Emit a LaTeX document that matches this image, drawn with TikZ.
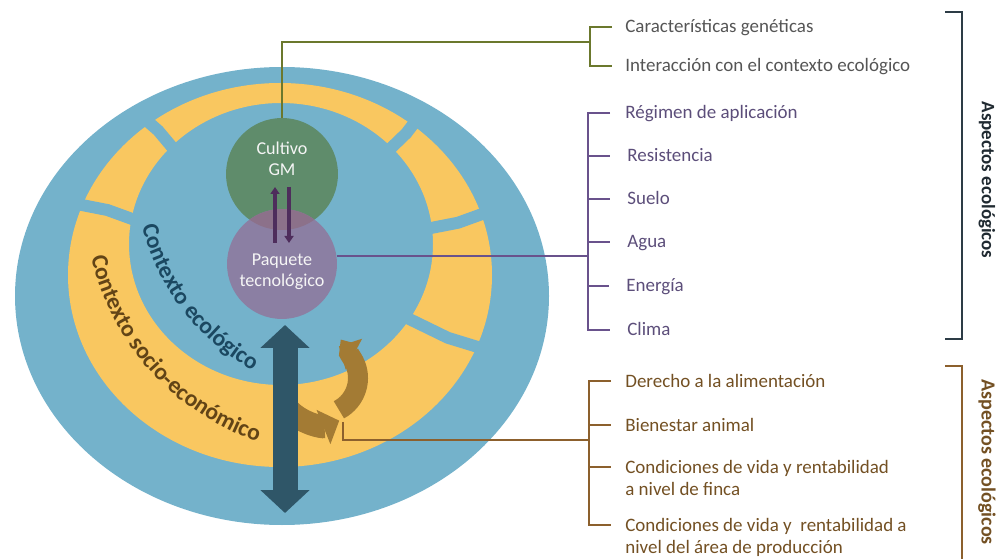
\documentclass[tikz,border=0pt]{standalone}
\usepackage{fontspec}
\setmainfont{Carlito}
\usetikzlibrary{arrows.meta,calc,decorations.text}

\begin{document}
\begin{tikzpicture}[x=0.02cm,y=0.02cm]
  % Colour definitions
  \definecolor{bgblue}{RGB}{116,178,203}
  \definecolor{ringyel}{RGB}{249,199,96}
  \definecolor{gmgreen}{RGB}{95,140,107}
  \definecolor{pkpurple}{RGB}{139,127,163}
  \definecolor{pklens}{RGB}{140,113,138}
  \definecolor{bigarr}{RGB}{47,86,104}
  \definecolor{recarr}{RGB}{163,123,52}
  \definecolor{tiearr}{RGB}{78,45,92}
  \definecolor{ecotext}{RGB}{27,72,97}
  \definecolor{sociotext}{RGB}{98,68,22}
  \definecolor{genline}{RGB}{107,120,45}
  \definecolor{gentext}{RGB}{85,85,85}
  \definecolor{pkline}{RGB}{105,82,140}
  \definecolor{pktext}{RGB}{92,78,122}
  \definecolor{socline}{RGB}{140,96,45}
  \definecolor{soctext}{RGB}{115,80,35}
  \definecolor{slate}{RGB}{45,60,70}

  \tikzset{
    itemtxt/.style={anchor=base west, inner sep=0pt, font=\fontsize{10.8}{12.6}\selectfont},
    circtxt/.style={align=center, text=white!92!gray, font=\fontsize{10.3}{12}\selectfont},
    asptxt/.style={rotate=-90, inner sep=0pt, font=\fontsize{10.8}{13}\selectfont\bfseries},
    conn/.style={line width=1.2pt},
    ringgap/.style={fill=bgblue}
  }

  \useasboundingbox (0,0) rectangle (997,558);

  % Background and segmented ring
  \fill[bgblue] (282,262) ellipse[x radius=267, y radius=229];
  \fill[ringyel, even odd rule] (280,283) ellipse[x radius=212, y radius=192]
                                (281,314) ellipse[x radius=152, y radius=141];
  \begin{scope}
    \clip (280,283) ellipse[x radius=216, y radius=196];
    \foreach \a in {134,164,48,15,-22}
      \fill[ringgap, shift={(281,293)}, rotate=\a]
        (110,-6) -- (182,-11) -- (240,-6) -- (240,6) -- (182,1) -- (110,6) -- cycle;
  \end{scope}

  % Curved labels
  \path[decorate, decoration={text along path, text align=center, text color=ecotext,
        text={|\fontsize{13.4}{16}\selectfont\bfseries|Contexto ecológico}}]
    ([shift={(192:230)}]365,388) arc[start angle=192, end angle=243, radius=230];
  \path[decorate, decoration={text along path, text align=center, text color=sociotext,
        text={|\fontsize{13.4}{16}\selectfont\bfseries|Contexto socio-económico}}]
    ([shift={(190:254)}]339,357) arc[start angle=190, end angle=254, radius=254];

  % Crop and technology package
  \node[circle, fill=gmgreen, minimum size=2.24cm, inner sep=0pt] (gm) at (282,384) {};
  \node[circle, fill=pkpurple, minimum size=2.2cm, inner sep=0pt] (pk) at (282,294) {};
  \begin{scope}
    \clip (282,384) circle[radius=56];
    \fill[pklens] (282,294) circle[radius=55];
  \end{scope}
  \node[circtxt] (gmtxt) at (282,399) {Cultivo\\GM};
  \node[circtxt] (pktxt) at (282,286) {Paquete\\tecnológico};

  \draw[tiearr, line width=0.08cm, -{Triangle[width=0.18cm,length=0.14cm]}]
    ([shift={(-7,21)}]pk.center) -- ([shift={(-7,-13)}]gm.center);
  \draw[tiearr, line width=0.08cm, -{Triangle[width=0.18cm,length=0.14cm]}]
    ([shift={(7,-13)}]gm.center) -- ([shift={(7,21)}]pk.center);

  % Cycle arrows
  \draw[recarr, line width=0.4cm, -{Triangle[width=0.68cm,length=0.34cm]}]
    ([shift={(-62:36)}]322,180) arc[start angle=-62, end angle=62, radius=36];
  \draw[recarr, line width=0.46cm, -{Triangle[width=0.72cm,length=0.34cm]}]
    ([shift={(225:46)}]322,180) arc[start angle=225, end angle=292, radius=46];
  \coordinate (rec) at (343,136);

  % Vertical double arrow
  \coordinate (bigtop) at (285,233);
  \coordinate (bigbot) at (285,45);
  \draw[bigarr, line width=0.5cm, {Triangle[width=0.96cm,length=0.46cm]}-{Triangle[width=0.96cm,length=0.46cm]}]
    (bigtop) -- (bigbot);

  % Crop items
  \node[itemtxt, text=gentext] (car) at (625,525) {Características genéticas};
  \node[itemtxt, text=gentext] (int) at (625,486) {Interacción con el contexto ecológico};
  \coordinate (genjoin) at (590,516);
  \draw[conn, genline] (gm.north) |- (genjoin);
  \draw[conn, genline] ($(car.base west)+(-13,6)$) -| ($(int.base west)+(-35,6)$) -- ++(22,0);

  % Package items
  \node[itemtxt, text=pktext] (reg) at (625,439) {Régimen de aplicación};
  \node[itemtxt, text=pktext] (res) at (627,396) {Resistencia};
  \node[itemtxt, text=pktext] (sue) at (627,353) {Suelo};
  \node[itemtxt, text=pktext] (agu) at (627,310) {Agua};
  \node[itemtxt, text=pktext] (ene) at (626,266) {Energía};
  \node[itemtxt, text=pktext] (cli) at (627,222) {Clima};
  \draw[conn, pkline] (pk.8) -- ($(pk.8 -| reg.base west)+(-37,0)$);
  \draw[conn, pkline] ($(reg.base west)+(-15,6)$) -| ($(cli.base west)+(-39,6)$) -- ++(22,0);
  \foreach \n in {res,sue,agu,ene}
    \draw[conn, pkline] ($(\n.base west)+(-39,6)$) -- ++(22,0);

  % Socio-economic items
  \node[itemtxt, text=soctext] (der) at (625,171) {Derecho a la alimentación};
  \node[itemtxt, text=soctext] (bie) at (625,127) {Bienestar animal};
  \node[itemtxt, text=soctext] (fin) at (625,85)
    {\begin{tabular}[t]{@{}l@{}}Condiciones de vida y rentabilidad\\a nivel de finca\end{tabular}};
  \node[itemtxt, text=soctext] (are) at (625,27)
    {\begin{tabular}[t]{@{}l@{}}Condiciones de vida y\ \ rentabilidad a\\nivel del área de producción\end{tabular}};
  \coordinate (socjoin) at (589,118);
  \draw[conn, socline] (rec) |- (socjoin);
  \draw[conn, socline] ($(der.base west)+(-14,6)$) -| ($(are.base west)+(-36,6)$) -- ++(22,0);
  \foreach \n in {bie,fin}
    \draw[conn, socline] ($(\n.base west)+(-36,6)$) -- ++(22,0);

  % Outer brackets
  \draw[slate, line width=1.4pt] (945,546) -- (962,546) -- (962,219) -- (945,219);
  \node[asptxt, text=slate!70!black] (asp1) at (987,378) {Aspectos ecológicos};
  \draw[socline, line width=1.4pt] (945,192) -- (962,192) -- (962,-2);
  \node[asptxt, text=soctext, font=\fontsize{11.4}{14}\selectfont\bfseries] (asp2) at (987,96) {Aspectos ecológicos};
\end{tikzpicture}
\end{document}
